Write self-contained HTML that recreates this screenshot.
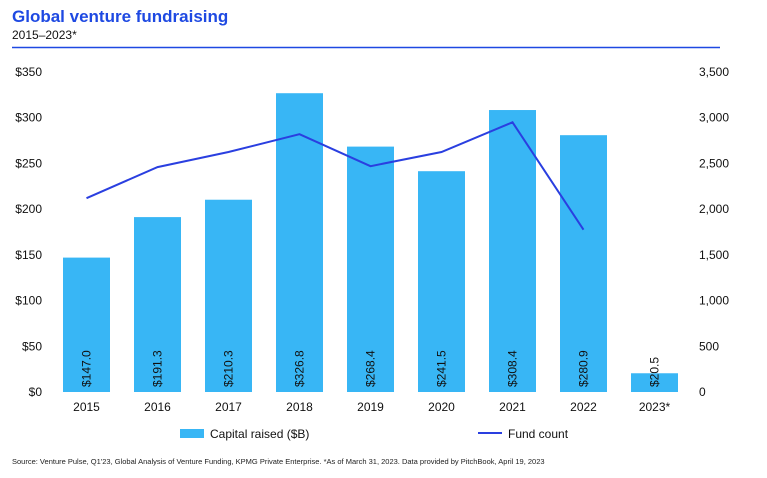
<!DOCTYPE html>
<html><head><meta charset="utf-8"><style>
body{margin:0;background:#fff;font-family:"Liberation Sans",Arial,sans-serif;}
svg text{font-family:"Liberation Sans",Arial,sans-serif;}
</style></head><body>
<svg id="c" width="767" height="473" viewBox="0 0 767 473">
<text x="12" y="22" font-size="17" font-weight="bold" fill="#1e49e2">Global venture fundraising</text>
<text x="12" y="39" font-size="12" fill="#111">2015–2023*</text>
<line x1="12" y1="47.5" x2="720" y2="47.5" stroke="#1e49e2" stroke-width="1.5"/>
<g id="axes"></g><g id="bars"></g><g id="line"></g>
<g>
<rect x="180" y="429" width="24" height="9" fill="#38b6f5"/>
<text x="210" y="438" font-size="12" fill="#111">Capital raised ($B)</text>
<line x1="478" y1="433" x2="502" y2="433" stroke="#2a3fe0" stroke-width="2"/>
<text x="508" y="438" font-size="12" fill="#111">Fund count</text>
</g>
<text x="12" y="464" font-size="7.5" fill="#222">Source: Venture Pulse, Q1'23, Global Analysis of Venture Funding, KPMG Private Enterprise. *As of March 31, 2023. Data provided by PitchBook, April 19, 2023</text>
</svg>
<script>
const categories=["2015","2016","2017","2018","2019","2020","2021","2022","2023*"];
const capital=[147.0,191.3,210.3,326.8,268.4,241.5,308.4,280.9,20.5];
const fundCount=[2120,2460,2625,2820,2470,2625,2950,1775,null];
const leftTicks=[0,50,100,150,200,250,300,350];
const rightTicks=[0,500,1000,1500,2000,2500,3000,3500];
const NS="http://www.w3.org/2000/svg";
const y0=392,yTop=72,xStart=51,step=71;
function yL(v){return y0-(v/350)*(y0-yTop);}
function yR(v){return y0-(v/3500)*(y0-yTop);}
function xC(i){return xStart+step*(i+0.5);}
function mk(t,a,p,txt){const e=document.createElementNS(NS,t);for(const k in a)e.setAttribute(k,a[k]);if(txt!=null)e.textContent=txt;p.appendChild(e);return e;}
const ax=document.getElementById('axes'),bg=document.getElementById('bars'),lg=document.getElementById('line');
leftTicks.forEach(v=>{const e=mk('text',{x:42,y:yL(v)+4,'font-size':12,'text-anchor':'end',fill:'#111'},ax,'$'+v);

});
rightTicks.forEach(v=>{const e=mk('text',{x:699,y:yR(v)+4,'font-size':12,fill:'#111'},ax,v.toLocaleString('en-US'));

});
categories.forEach((c,i)=>{const e=mk('text',{x:xC(i),y:411,'font-size':12,'text-anchor':'middle',fill:'#111'},ax,c);

});
capital.forEach((v,i)=>{const x=xC(i)-23.5,y=yL(v);
const r=mk('rect',{x:x,y:y,width:47,height:y0-y,fill:'#38b6f5'},bg);


const t=mk('text',{x:0,y:0,'font-size':12,fill:'#111',transform:`translate(${xC(i)+4},387) rotate(-90)`},bg,'$'+v.toFixed(1));

});
const pts=fundCount.map((v,i)=>v==null?null:[xC(i),yR(v)]).filter(p=>p);
const pl=mk('polyline',{points:pts.map(p=>p.join(',')).join(' '),fill:'none',stroke:'#2a3fe0','stroke-width':2},lg);


</script>
</body></html>
